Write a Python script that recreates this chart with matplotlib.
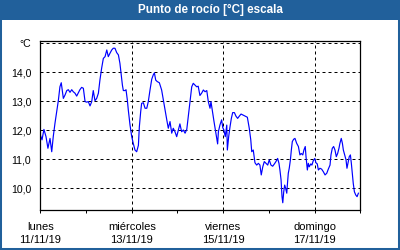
import matplotlib.pyplot as plt
from matplotlib.patches import Rectangle
from matplotlib.ticker import FixedLocator, NullFormatter

# hours since lunes 11/11/19 00:00
hours = [
    0.0, 0.9, 1.9, 3.0, 4.0, 5.1, 6.0, 6.8, 7.7, 8.6, 9.5, 10.3, 11.0, 12.1,
    13.0, 13.9, 14.7, 15.6, 16.5, 17.3, 18.2, 19.1, 20.0, 20.8, 21.7, 22.6,
    23.5, 24.4, 25.2, 26.1, 27.0, 27.8, 28.7, 29.6, 30.5, 31.3, 32.2, 33.1,
    34.0, 34.9, 35.7, 36.6, 37.5, 38.3, 39.2, 40.1, 41.0, 41.8, 42.4, 43.1,
    43.6, 44.5, 45.0, 45.7, 46.2, 47.1, 48.0, 48.8, 49.7, 50.6, 51.5, 52.0,
    52.7, 53.2, 54.1, 55.0, 55.9, 56.7, 57.6, 58.5, 59.3, 59.9, 60.6, 61.4,
    62.5, 63.7, 64.6, 65.5, 66.4, 67.2, 68.1, 69.0, 69.8, 70.7, 71.6, 72.5,
    73.3, 74.2, 75.1, 76.0, 76.9, 77.7, 78.6, 79.5, 80.3, 81.2, 82.1, 82.9,
    83.8, 84.7, 85.6, 86.5, 87.4, 88.2, 89.1, 89.6, 90.5, 91.2, 91.9, 92.6,
    93.1, 93.5, 94.3, 95.2, 95.8, 96.4, 97.1, 97.9, 98.2, 98.9, 99.6, 100.3,
    101.0, 101.9, 102.7, 103.6, 104.5, 105.4, 106.3, 107.5, 108.7, 109.7,
    110.5, 111.0, 111.8, 112.7, 113.6, 114.5, 115.3, 116.0, 116.8, 117.6,
    118.5, 119.4, 120.2, 121.1, 122.0, 122.9, 123.7, 124.6, 125.3, 125.8,
    126.4, 126.9, 127.3, 127.8, 128.3, 128.8, 129.4, 129.7, 130.2, 130.7,
    131.3, 131.8, 132.3, 133.0, 133.7, 134.6, 135.5, 136.3, 137.0, 137.8,
    138.4, 139.1, 139.5, 140.2, 140.7, 141.2, 142.0, 142.6, 143.3, 144.1,
    144.7, 145.4, 146.0, 146.8, 147.7, 148.6, 149.5, 150.4, 151.2, 152.1,
    152.6, 153.3, 154.0, 154.7, 155.4, 156.1, 156.8, 157.3, 158.0, 158.6,
    159.1, 159.8, 160.5, 161.0, 161.5, 162.2, 162.8, 163.3, 163.8, 164.3,
    164.9, 165.6, 166.3, 167.0,
]
dew_point = [
    11.84, 11.67, 12.03, 11.78, 11.38, 11.72, 11.26, 11.78, 12.24, 12.64,
    13.04, 13.50, 13.64, 13.10, 13.22, 13.37, 13.40, 13.31, 13.40, 13.33,
    13.28, 13.18, 13.30, 13.40, 13.48, 13.45, 12.99, 12.97, 12.99, 12.84,
    12.99, 13.37, 13.02, 13.10, 13.28, 13.73, 14.14, 14.48, 14.54, 14.77,
    14.54, 14.66, 14.77, 14.83, 14.83, 14.68, 14.60, 14.31, 13.97, 13.56,
    13.37, 13.37, 13.40, 13.04, 12.70, 12.18, 11.78, 11.55, 11.32, 11.26,
    11.48, 12.12, 12.64, 12.93, 12.95, 12.76, 12.76, 12.99, 13.39, 13.76,
    13.91, 13.98, 13.73, 13.68, 13.64, 13.39, 13.04, 12.70, 12.36, 12.07,
    12.30, 11.90, 12.07, 11.95, 11.78, 12.01, 12.22, 11.95, 12.01, 11.90,
    12.03, 12.47, 12.99, 13.50, 13.62, 13.56, 13.50, 13.52, 13.20,
    13.28, 13.39, 13.33, 13.37, 12.99, 12.76, 12.99, 12.59, 12.30, 12.01,
    11.72, 11.53, 11.95, 12.18, 12.36, 12.09, 12.01, 11.78, 12.18, 11.32,
    11.78, 12.12, 12.41, 12.61, 12.61, 12.49, 12.41, 12.49, 12.56, 12.53,
    12.49, 12.45, 12.07, 11.67, 11.26, 11.32, 10.88, 10.80, 10.86, 10.80,
    10.46, 10.74, 10.92, 10.86, 10.80, 10.98, 10.80, 10.76, 10.84, 10.92,
    11.03, 10.86, 10.63, 10.29, 9.71, 9.50, 9.88, 10.11, 10.00, 9.83,
    10.11, 10.52, 10.69, 10.98, 11.32, 11.61, 11.69, 11.72, 11.55, 11.44,
    11.15, 11.20, 11.15, 11.32, 11.44, 11.09, 10.63, 10.86, 10.74, 10.84,
    10.80, 10.95, 11.03, 10.88, 10.84, 10.63, 10.69, 10.66, 10.57, 10.46,
    10.52, 10.66, 10.80, 11.15, 11.38, 11.44, 11.32, 11.09, 11.20, 11.38,
    11.55, 11.72, 11.55, 11.32, 11.15, 10.98, 10.69, 10.86, 11.09, 11.15,
    10.86, 10.52, 10.17, 9.88, 9.77, 9.71, 9.83,
]

y_ticks = [10, 11, 12, 13, 14, 15]
y_labels = ["10,0", "11,0", "12,0", "13,0", "14,0", "°C"]
x_ticks = [0, 48, 96, 144]
x_labels = ["lunes\n11/11/19", "miércoles\n13/11/19", "viernes\n15/11/19", "domingo\n17/11/19"]
day_ticks = [0, 24, 48, 72, 96, 120, 144, 168]

frame_blue = "#21609b"
W, H = 400, 250

fig = plt.figure(figsize=(4, 2.5), dpi=100, facecolor="white")
fig.patches.append(Rectangle((0, 0), 1, 1, transform=fig.transFigure, fill=False,
                             edgecolor=frame_blue, linewidth=2.9, zorder=5))
fig.patches.append(Rectangle((0, 1 - 20 / H), 1, 20 / H, transform=fig.transFigure,
                             facecolor=frame_blue, edgecolor="none", zorder=4))
fig.text(210 / W, 1 - 10 / H, "Punto de rocío [°C] escala", color="white",
         fontsize=8.4, fontweight="bold", family="Liberation Sans",
         ha="center", va="center", zorder=6)

ax = fig.add_axes([40.3 / W, 1 - 210.3 / H, 320 / W, (210.3 - 40.7) / H])
ax.plot(hours, dew_point, color="#0000ff", lw=0.85)

ax.set_xlim(0, 168)
ax.set_ylim(9.24, 15.09)

ax.set_yticks(y_ticks)
ax.set_yticklabels(y_labels)
ax.set_xticks(x_ticks)
ax.set_xticklabels(x_labels, linespacing=1.3)
ax.xaxis.set_minor_locator(FixedLocator(day_ticks))
ax.xaxis.set_minor_formatter(NullFormatter())

ax.grid(True, color="black", lw=0.72, linestyle=(0, (3, 3)))
ax.tick_params(axis="y", length=0, pad=6.5, labelsize=7.6, colors="black")
ax.tick_params(axis="x", which="both", length=2.5, width=0.72, direction="out",
               pad=6, labelsize=8)
for lbl in ax.get_xticklabels() + ax.get_yticklabels():
    lbl.set_family("Liberation Sans")
for s in ax.spines.values():
    s.set_linewidth(0.9)
    s.set_color("black")

fig.savefig("out.png", dpi=100, facecolor="white")
